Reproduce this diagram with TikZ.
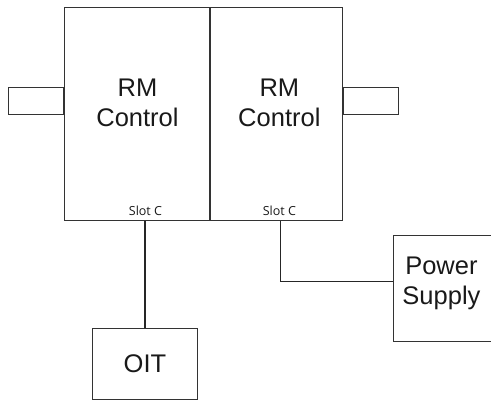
\documentclass[tikz,border=0pt]{standalone}
\usepackage{fontspec}
\setmainfont{Liberation Sans}
\newfontfamily\slotfont{Open Sans}
\usetikzlibrary{positioning}
\tikzset{
    % outline of every unit
    unit/.style={
        draw=black!80,
        line width=0.9pt,
        inner sep=0pt,
    },
    % small tabs on the sides of the controls
    tab/.style={
        unit,
        minimum width=55pt,
        minimum height=27pt,
    },
    % large names inside the units
    big text/.style={
        font=\fontsize{25.5}{30}\selectfont,
        align=center,
        text=black!90,
    },
    % slot names at the foot of the controls
    slot/.style={
        font=\slotfont\fontsize{12.5}{14}\selectfont,
        text=black!90,
        inner sep=0pt,
    },
    % cables between the units
    wire/.style={
        draw=black!85,
        line width=1.1pt,
    },
}

\begin{document}
\begin{tikzpicture}[x=1pt, y=1pt]
    \useasboundingbox (0,0) rectangle (491,401);

    \node (rmL) [unit, minimum width=145pt, minimum height=213pt, anchor=north west,
        label={[big text, xshift=0.5pt, yshift=11.5pt]center:RM\\Control},
        label={[slot, anchor=base, xshift=8.5pt, yshift=5pt]south:Slot C}] at (64,394) {};
    \node (rmR) [unit, minimum width=132pt, minimum height=213pt, anchor=north west,
        label={[big text, xshift=3pt, yshift=11.5pt]center:RM\\Control},
        label={[slot, anchor=base, xshift=3pt, yshift=5pt]south:Slot C}] at (rmL.north east) {};

    \node (tabL) [tab, anchor=east] at ([yshift=13pt]rmL.west) {};
    \node (tabR) [tab, anchor=west] at ([yshift=13pt]rmR.east) {};

    \node (oit) [unit, big text, minimum width=105pt, minimum height=71pt,
        below=107pt of rmL.south, xshift=8pt] {OIT};
    \node (power) [unit, minimum width=104pt, minimum height=106pt, anchor=north west,
        label={[big text, xshift=-4pt, yshift=5pt]center:Power\\Supply}] at (393,166) {};

    \draw [wire] (oit.north) -- (oit.north |- rmL.south);
    \draw [wire] ([xshift=4pt]rmR.south) |- ([yshift=7pt]power.west);
\end{tikzpicture}
\end{document}
